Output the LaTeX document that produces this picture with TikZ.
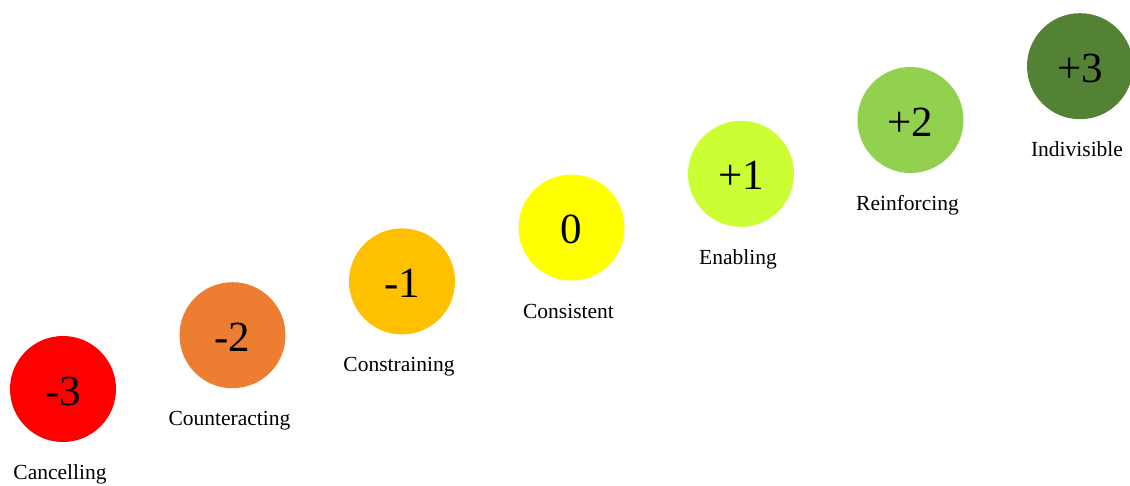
\documentclass[tikz,border=0pt]{standalone}
\usepackage{fontspec}
\setmainfont{Liberation Serif}
\definecolor{cm3}{HTML}{FF0000}
\definecolor{cm2}{HTML}{ED7D31}
\definecolor{cm1}{HTML}{FFC000}
\definecolor{c0}{HTML}{FFFF00}
\definecolor{cp1}{HTML}{CCFF33}
\definecolor{cp2}{HTML}{92D050}
\definecolor{cp3}{HTML}{548235}
\tikzset{
  dot/.style={circle, minimum size=106pt, inner sep=0pt, fill=#1},
  num/.style={font=\fontsize{43}{46}\selectfont, inner sep=0pt},
  lbl/.style={font=\fontsize{21.5}{24}\selectfont, inner sep=0pt}
}
\begin{document}
\begin{tikzpicture}[x=1pt,y=-1pt]
\useasboundingbox (0,0) rectangle (1130,485);
\foreach \i/\c/\t/\l in {0/cm3/-3/Cancelling,1/cm2/-2/Counteracting,2/cm1/-1/Constraining,3/c0/0/Consistent,4/cp1/+1/Enabling,5/cp2/+2/Reinforcing,6/cp3/+3/Indivisible}{
  \node[dot=\c] (n\i) at ({63+169.5*\i},{389-53.8*\i}) {};
  \node[num] (t\i) at ([yshift=-2pt]n\i.center) {\t};
  \node[lbl, anchor=base] (l\i) at ({60+169.5*\i},{479.5-53.8*\i}) {\l};
}
\end{tikzpicture}
\end{document}
